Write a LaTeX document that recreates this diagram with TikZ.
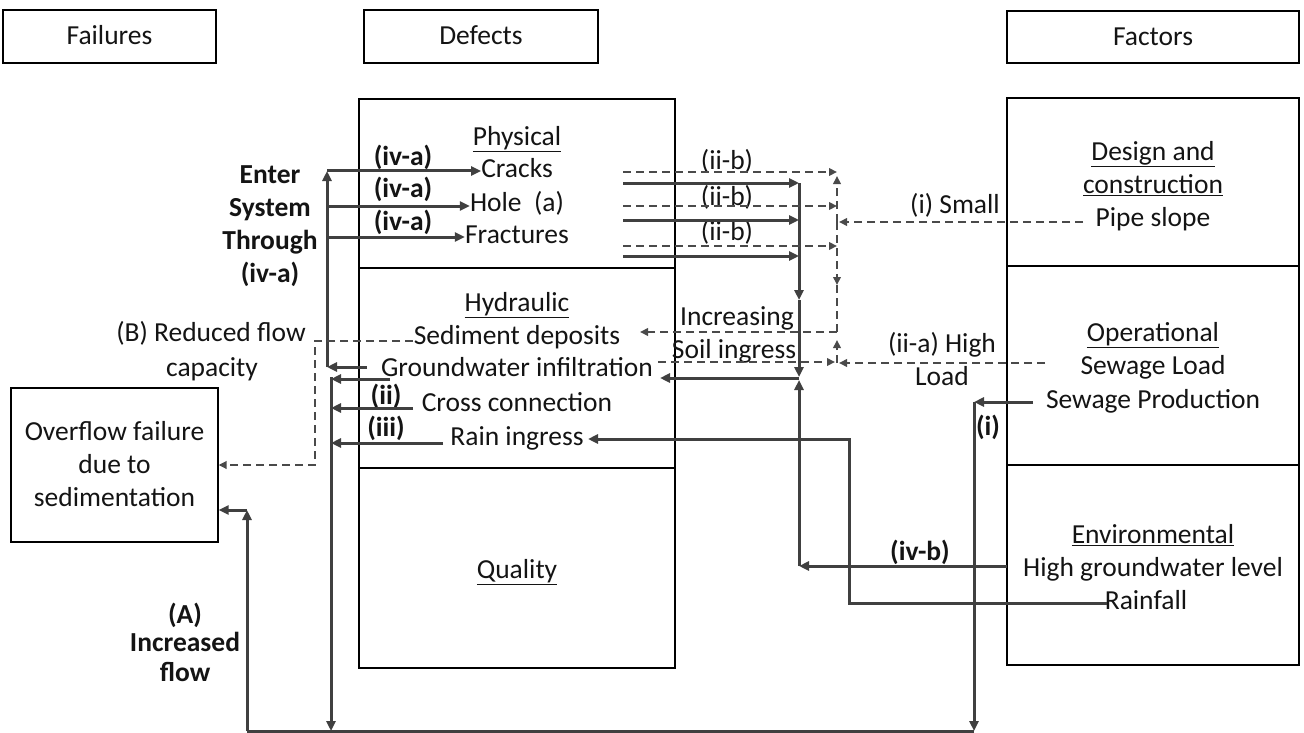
\documentclass[tikz,border=0pt]{standalone}
\usepackage{fontspec}
\setmainfont{Carlito}
\usetikzlibrary{arrows.meta}
\definecolor{lnc}{HTML}{404040}
\definecolor{dashc}{HTML}{4a4a4a}
\begin{document}
\begin{tikzpicture}[x=1pt,y=-1pt,
  box/.style={draw=black, line width=1.2pt, inner sep=0pt},
  tx/.style={inner sep=0pt, text height=19pt, text depth=2pt, font=\fontsize{27.5}{33}\selectfont, text=black!92},
  bt/.style={tx, font=\fontsize{27.5}{33}\selectfont\bfseries},
  sl/.style={draw=lnc, line width=3pt},
  sa/.style={sl, -{Triangle[length=10pt,width=9pt]}},
  dl/.style={draw=dashc, line width=2pt, dash pattern=on 8pt off 5pt},
  da/.style={dl, -{Triangle[length=8pt,width=7.5pt]}},
]
\fill[white] (0,0) rectangle (1304,733);
\useasboundingbox (0,0) rectangle (1304,733);

% ---------- header boxes
\node[box,minimum width=213pt,minimum height=53pt] (failH) at (109.5,36.5) {};
\node[tx] (tFail) at (failH) {Failures};
\node[box,minimum width=234pt,minimum height=53pt] (defH) at (481,36.5) {};
\node[tx] (tDef) at (defH) {Defects};
\node[box,minimum width=292pt,minimum height=52pt] (facH) at (1153,37) {};
\node[tx] (tFac) at (facH) {Factors};

% ---------- defect boxes
\node[box,minimum width=316pt,minimum height=169pt] (phys) at (517,183.5) {};
\node[box,minimum width=316pt,minimum height=200pt] (hyd) at (517,368) {};
\node[box,minimum width=316pt,minimum height=200pt] (qual) at (517,568) {};

% ---------- factor boxes
\node[box,minimum width=292pt,minimum height=168pt] (des) at (1153,182) {};
\node[box,minimum width=292pt,minimum height=199pt] (ope) at (1153,365.5) {};
\node[box,minimum width=292pt,minimum height=200pt] (env) at (1153,565) {};

% ---------- failure box
\node[box,minimum width=207pt,minimum height=154pt] (over) at (114.5,465) {};
\node[tx] (tOv1) at (114.5,432) {Overflow failure};
\node[tx] (tOv2) at (114.5,465) {due to};
\node[tx] (tOv3) at (114.5,498) {sedimentation};

% ---------- texts in defect boxes
\node[tx] (tPhys) at (517,137) {\underline{Physical}};
\node[tx] (tCracks) at (517,169) {Cracks};
\node[tx] (tHole) at (517,203) {Hole\ \ (a)};
\node[tx] (tFract) at (517,235) {Fractures};
\node[tx] (tHyd) at (517,303) {\underline{Hydraulic}};
\node[tx] (tSed) at (517,336) {Sediment deposits};
\node[tx] (tGw) at (517,368) {Groundwater infiltration};
\node[tx] (tCross) at (517,403) {Cross connection};
\node[tx] (tRain) at (517,437) {Rain ingress};
\node[tx] (tQual) at (517,570) {\underline{Quality}};

% ---------- texts in factor boxes
\node[tx] (tDes1) at (1153,152) {\underline{Design and}};
\node[tx] (tDes2) at (1153,185) {\underline{construction}};
\node[tx] (tPipe) at (1153,218) {Pipe slope};
\node[tx] (tOp) at (1153,333) {\underline{Operational}};
\node[tx] (tSL) at (1153,366) {Sewage Load};
\node[tx] (tSP) at (1153,400) {Sewage Production};
\node[tx] (tEnv) at (1153,535) {\underline{Environmental}};
\node[tx] (tHG) at (1153,568) {High groundwater level};
\node[tx] (tRf) at (1146,601) {Rainfall};

% ---------- free labels
\node[bt] (lE1) at (270,175) {Enter};
\node[bt] (lE2) at (270,208) {System};
\node[bt] (lE3) at (270,241) {Through};
\node[bt] (lE4) at (270,274) {(iv-a)};
\node[bt] (lIa1) at (403,157) {(iv-a)};
\node[bt] (lIa2) at (403,189) {(iv-a)};
\node[bt] (lIa3) at (403,222) {(iv-a)};
\node[bt] (lii) at (386,396) {(ii)};
\node[bt] (liii) at (386,428) {(iii)};
\node[bt] (livb) at (920,552) {(iv-b)};
\node[bt] (li) at (988,427) {(i)};
\node[bt] (lA1) at (185,615) {(A)};
\node[bt] (lA2) at (185,643) {Increased};
\node[bt] (lA3) at (185,673) {flow};
\node[tx] (lB1) at (211,333) {(B) Reduced flow};
\node[tx] (lB2) at (212,368) {capacity};
\node[tx] (lb1) at (727,161) {(ii-b)};
\node[tx] (lb2) at (727,197) {(ii-b)};
\node[tx] (lb3) at (727,232) {(ii-b)};
\node[tx] (lSm) at (955,205) {(i) Small};
\node[tx] (lHi) at (942,344) {(ii-a) High};
\node[tx] (lLo) at (942,377) {Load};
\node[tx] (lInc) at (737,317) {Increasing};
\node[tx] (lSoil) at (734,350) {Soil ingress};

% ---------- coordinates
\coordinate (g1) at (367,367);
\coordinate (v1b) at (327,367);
\coordinate (h1) at (327,171);
\coordinate (h2) at (327,206);
\coordinate (h3) at (327,237);
\coordinate (v2t) at (331,377);
\coordinate (v2b) at (331,731);
\coordinate (r1) at (390,379);
\coordinate (r2) at (413,408);
\coordinate (r3) at (443,443);
\coordinate (bL) at (247,731);
\coordinate (bR) at (974,731);
\coordinate (aT) at (247,510);
\coordinate (sp) at (1033,402);
\coordinate (spc) at (974,402);
\coordinate (p1) at (623,183);
\coordinate (p2) at (623,220);
\coordinate (p3) at (623,256);
\coordinate (vs) at (799,183);
\coordinate (vsm) at (799,300);
\coordinate (vsb) at (799,377);
\coordinate (gwR) at (799,378);
\coordinate (gwT) at (660,378);
\coordinate (hg) at (1007,566);
\coordinate (hgc) at (799,566);
\coordinate (vsu) at (799,380);
\coordinate (rf) at (1107,603);
\coordinate (rfc) at (849,603);
\coordinate (rfu) at (849,439);
\coordinate (rT) at (588,439);
\coordinate (d1) at (623,172);
\coordinate (d2) at (623,206);
\coordinate (d3) at (623,246);
\coordinate (dv1) at (837,172);
\coordinate (dv2) at (837,206);
\coordinate (dv3) at (837,246);
\coordinate (dvt) at (837,176);
\coordinate (dps) at (837,222);
\coordinate (dpsT) at (839,222);
\coordinate (dmd) at (837,285);
\coordinate (dsc) at (837,332);
\coordinate (sedT) at (640,332);
\coordinate (ps) at (1083,222);
\coordinate (hl) at (1045,363);
\coordinate (hlT) at (839,363);
\coordinate (hlc) at (837,363);
\coordinate (hlU) at (837,340);
\coordinate (gwd) at (658,362);
\coordinate (gwdT) at (835,362);
\coordinate (sd1) at (413,341);
\coordinate (sd2) at (315,341);
\coordinate (sd3) at (315,465);

% ---------- solid connectors
\draw[sa] (g1) -- (v1b);
\draw[sa] (v1b) -- (h1);
\draw[sa] (h1) -- (h1 -| tCracks.west);
\draw[sa] (h2) -- (h2 -| tHole.west);
\draw[sa] (h3) -- (h3 -| tFract.west);

\draw[sa] (v2t) -- (v2b);
\draw[sa] (r1) -- (r1 -| v2t);
\draw[sa] (r2) -- (r2 -| v2t);
\draw[sa] (r3) -- (r3 -| v2t);

\draw[sl] (bR) -- (bL);
\draw[sa] (bL) -- (aT);
\draw[sa] (aT) -- (aT -| over.east);
\draw[sa] (sp) -- (spc);
\draw[sa] (spc) -- (bR);

\draw[sa] (p1) -- (p1 -| vs);
\draw[sa] (p2) -- (p2 -| vs);
\draw[sa] (p3) -- (p3 -| vs);
\draw[sa] (vs) -- (vsm);
\draw[sa] (vsm) -- (vsb);
\draw[sa] (gwR) -- (gwT);
\draw[sa] (hg) -- (hgc);
\draw[sa] (hgc) -- (vsu);
\draw[sa] (rf) -- (rfc) -- (rfu) -- (rT);

% ---------- dashed connectors
\draw[da] (d1) -- (dv1);
\draw[da] (d2) -- (dv2);
\draw[da] (d3) -- (dv3);
\draw[da] (dps) -- (dvt);
\draw[da] (dps) -- (dmd);
\draw[dl] (dmd) -- (dsc);
\draw[da] (dsc) -- (sedT);
\draw[da] (ps) -- (dpsT);
\draw[da] (hl) -- (hlT);
\draw[da] (hlc) -- (hlU);
\draw[da] (gwd) -- (gwdT);
\draw[da] (sd1) -- (sd2) -- (sd3) -- (sd3 -| over.east);
\end{tikzpicture}
\end{document}
